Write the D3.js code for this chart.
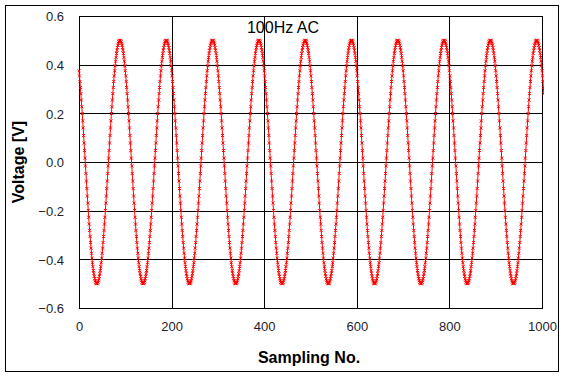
<!DOCTYPE html>
<html>
<head>
<meta charset="utf-8">
<script src="https://cdn.jsdelivr.net/npm/d3@7"></script>
<style>
html,body{margin:0;padding:0;background:#fff;}
svg{display:block;}
text{font-family:"Liberation Sans",Arial,sans-serif;}
</style>
</head>
<body>
<svg id="chart" width="567" height="379"></svg>
<script>
// Voltage [V] per sampling number (0,1,2,...)
const voltage = [
.375,.354,.331,.306,.281,.255,.227,.199,.169,.140,.109,.078,.047,.016,-.016,-.047,-.078,-.109,-.140,-.169,-.199,-.227,-.255,-.281,-.306,-.331,-.354,-.375,-.395,-.414,-.430,-.446,-.459,-.470,-.480,-.488,-.494,-.498,-.500,-.500,-.498,-.494,-.488,-.480,-.470,-.459,-.446,-.430,-.414,-.395,-.375,-.354,-.331,-.306,-.281,-.255,-.227,-.199,-.169,-.140,-.109,-.078,-.047,-.016,.016,.047,.078,.109,.140,.169,.199,.227,.255,.281,.306,.331,.354,.375,.395,.414,.430,.446,.459,.470,.480,.488,.494,.498,.500,.500,.498,.494,.488,.480,.470,.459,.446,.430,.414,.395,
.375,.354,.331,.306,.281,.255,.227,.199,.169,.140,.109,.078,.047,.016,-.016,-.047,-.078,-.109,-.140,-.169,-.199,-.227,-.255,-.281,-.306,-.331,-.354,-.375,-.395,-.414,-.430,-.446,-.459,-.470,-.480,-.488,-.494,-.498,-.500,-.500,-.498,-.494,-.488,-.480,-.470,-.459,-.446,-.430,-.414,-.395,-.375,-.354,-.331,-.306,-.281,-.255,-.227,-.199,-.169,-.140,-.109,-.078,-.047,-.016,.016,.047,.078,.109,.140,.169,.199,.227,.255,.281,.306,.331,.354,.375,.395,.414,.430,.446,.459,.470,.480,.488,.494,.498,.500,.500,.498,.494,.488,.480,.470,.459,.446,.430,.414,.395,
.375,.354,.331,.306,.281,.255,.227,.199,.169,.140,.109,.078,.047,.016,-.016,-.047,-.078,-.109,-.140,-.169,-.199,-.227,-.255,-.281,-.306,-.331,-.354,-.375,-.395,-.414,-.430,-.446,-.459,-.470,-.480,-.488,-.494,-.498,-.500,-.500,-.498,-.494,-.488,-.480,-.470,-.459,-.446,-.430,-.414,-.395,-.375,-.354,-.331,-.306,-.281,-.255,-.227,-.199,-.169,-.140,-.109,-.078,-.047,-.016,.016,.047,.078,.109,.140,.169,.199,.227,.255,.281,.306,.331,.354,.375,.395,.414,.430,.446,.459,.470,.480,.488,.494,.498,.500,.500,.498,.494,.488,.480,.470,.459,.446,.430,.414,.395,
.375,.354,.331,.306,.281,.255,.227,.199,.169,.140,.109,.078,.047,.016,-.016,-.047,-.078,-.109,-.140,-.169,-.199,-.227,-.255,-.281,-.306,-.331,-.354,-.375,-.395,-.414,-.430,-.446,-.459,-.470,-.480,-.488,-.494,-.498,-.500,-.500,-.498,-.494,-.488,-.480,-.470,-.459,-.446,-.430,-.414,-.395,-.375,-.354,-.331,-.306,-.281,-.255,-.227,-.199,-.169,-.140,-.109,-.078,-.047,-.016,.016,.047,.078,.109,.140,.169,.199,.227,.255,.281,.306,.331,.354,.375,.395,.414,.430,.446,.459,.470,.480,.488,.494,.498,.500,.500,.498,.494,.488,.480,.470,.459,.446,.430,.414,.395,
.375,.354,.331,.306,.281,.255,.227,.199,.169,.140,.109,.078,.047,.016,-.016,-.047,-.078,-.109,-.140,-.169,-.199,-.227,-.255,-.281,-.306,-.331,-.354,-.375,-.395,-.414,-.430,-.446,-.459,-.470,-.480,-.488,-.494,-.498,-.500,-.500,-.498,-.494,-.488,-.480,-.470,-.459,-.446,-.430,-.414,-.395,-.375,-.354,-.331,-.306,-.281,-.255,-.227,-.199,-.169,-.140,-.109,-.078,-.047,-.016,.016,.047,.078,.109,.140,.169,.199,.227,.255,.281,.306,.331,.354,.375,.395,.414,.430,.446,.459,.470,.480,.488,.494,.498,.500,.500,.498,.494,.488,.480,.470,.459,.446,.430,.414,.395,
.375,.354,.331,.306,.281,.255,.227,.199,.169,.140,.109,.078,.047,.016,-.016,-.047,-.078,-.109,-.140,-.169,-.199,-.227,-.255,-.281,-.306,-.331,-.354,-.375,-.395,-.414,-.430,-.446,-.459,-.470,-.480,-.488,-.494,-.498,-.500,-.500,-.498,-.494,-.488,-.480,-.470,-.459,-.446,-.430,-.414,-.395,-.375,-.354,-.331,-.306,-.281,-.255,-.227,-.199,-.169,-.140,-.109,-.078,-.047,-.016,.016,.047,.078,.109,.140,.169,.199,.227,.255,.281,.306,.331,.354,.375,.395,.414,.430,.446,.459,.470,.480,.488,.494,.498,.500,.500,.498,.494,.488,.480,.470,.459,.446,.430,.414,.395,
.375,.354,.331,.306,.281,.255,.227,.199,.169,.140,.109,.078,.047,.016,-.016,-.047,-.078,-.109,-.140,-.169,-.199,-.227,-.255,-.281,-.306,-.331,-.354,-.375,-.395,-.414,-.430,-.446,-.459,-.470,-.480,-.488,-.494,-.498,-.500,-.500,-.498,-.494,-.488,-.480,-.470,-.459,-.446,-.430,-.414,-.395,-.375,-.354,-.331,-.306,-.281,-.255,-.227,-.199,-.169,-.140,-.109,-.078,-.047,-.016,.016,.047,.078,.109,.140,.169,.199,.227,.255,.281,.306,.331,.354,.375,.395,.414,.430,.446,.459,.470,.480,.488,.494,.498,.500,.500,.498,.494,.488,.480,.470,.459,.446,.430,.414,.395,
.375,.354,.331,.306,.281,.255,.227,.199,.169,.140,.109,.078,.047,.016,-.016,-.047,-.078,-.109,-.140,-.169,-.199,-.227,-.255,-.281,-.306,-.331,-.354,-.375,-.395,-.414,-.430,-.446,-.459,-.470,-.480,-.488,-.494,-.498,-.500,-.500,-.498,-.494,-.488,-.480,-.470,-.459,-.446,-.430,-.414,-.395,-.375,-.354,-.331,-.306,-.281,-.255,-.227,-.199,-.169,-.140,-.109,-.078,-.047,-.016,.016,.047,.078,.109,.140,.169,.199,.227,.255,.281,.306,.331,.354,.375,.395,.414,.430,.446,.459,.470,.480,.488,.494,.498,.500,.500,.498,.494,.488,.480,.470,.459,.446,.430,.414,.395,
.375,.354,.331,.306,.281,.255,.227,.199,.169,.140,.109,.078,.047,.016,-.016,-.047,-.078,-.109,-.140,-.169,-.199,-.227,-.255,-.281,-.306,-.331,-.354,-.375,-.395,-.414,-.430,-.446,-.459,-.470,-.480,-.488,-.494,-.498,-.500,-.500,-.498,-.494,-.488,-.480,-.470,-.459,-.446,-.430,-.414,-.395,-.375,-.354,-.331,-.306,-.281,-.255,-.227,-.199,-.169,-.140,-.109,-.078,-.047,-.016,.016,.047,.078,.109,.140,.169,.199,.227,.255,.281,.306,.331,.354,.375,.395,.414,.430,.446,.459,.470,.480,.488,.494,.498,.500,.500,.498,.494,.488,.480,.470,.459,.446,.430,.414,.395,
.375,.354,.331,.306,.281,.255,.227,.199,.169,.140,.109,.078,.047,.016,-.016,-.047,-.078,-.109,-.140,-.169,-.199,-.227,-.255,-.281,-.306,-.331,-.354,-.375,-.395,-.414,-.430,-.446,-.459,-.470,-.480,-.488,-.494,-.498,-.500,-.500,-.498,-.494,-.488,-.480,-.470,-.459,-.446,-.430,-.414,-.395,-.375,-.354,-.331,-.306,-.281,-.255,-.227,-.199,-.169,-.140,-.109,-.078,-.047,-.016,.016,.047,.078,.109,.140,.169,.199,.227,.255,.281,.306,.331,.354,.375,.395,.414,.430,.446,.459,.470,.480,.488,.494,.498,.500,.500,.498,.494,.488,.480,.470,.459,.446,.430,.414,.395,
.375,.354,.331,.306,.281
];
const xTicks = [0, 200, 400, 600, 800, 1000];
const yTicks = [-0.6, -0.4, -0.2, 0.0, 0.2, 0.4, 0.6];
const xDomain = [0, 1000];
const yDomain = [-0.6, 0.6];
const chartTitle = "100Hz AC";
const xTitle = "Sampling No.";
const yTitle = "Voltage [V]";

const svg = d3.select("#chart");
const L = 79, R = 542, T = 16, B = 308;
const x = d3.scaleLinear().domain(xDomain).range([L, R]);
const y = d3.scaleLinear().domain(yDomain).range([B, T]);
const px = v => Math.round(v) + 0.5;

// outer frame
svg.append("rect").attr("x", 5.5).attr("y", 5.5).attr("width", 553).attr("height", 366)
  .attr("fill", "#fff").attr("stroke", "#000").attr("stroke-width", 1);

// grid
const grid = svg.append("g").attr("stroke", "#000").attr("stroke-width", 1).attr("shape-rendering", "crispEdges");
grid.selectAll("line.h").data(yTicks).join("line").attr("class", "h")
  .attr("x1", L).attr("x2", R).attr("y1", d => px(y(d))).attr("y2", d => px(y(d)));
grid.selectAll("line.v").data(xTicks).join("line").attr("class", "v")
  .attr("y1", T).attr("y2", B).attr("x1", d => px(x(d))).attr("x2", d => px(x(d)));
svg.append("rect").attr("x", px(L)).attr("y", px(T)).attr("width", Math.round(R) - Math.round(L)).attr("height", Math.round(B) - Math.round(T))
  .attr("fill", "none").attr("stroke", "#000").attr("stroke-width", 1).attr("shape-rendering", "crispEdges");

// tick labels via axes
const yAxis = d3.axisLeft(y).tickValues(yTicks).tickFormat(d3.format(".1f")).tickSize(0).tickPadding(0);
const gy = svg.append("g").attr("transform", "translate(64,0)").call(yAxis);
gy.select(".domain").remove();
gy.selectAll("text").attr("font-size", 13).attr("fill", "#1e1e2e").attr("font-family", "'Liberation Sans',Arial,sans-serif").attr("dy", "0.36em");

const xAxis = d3.axisBottom(x).tickValues(xTicks).tickFormat(d3.format("d")).tickSize(0).tickPadding(0);
const gx = svg.append("g").attr("transform", "translate(0,322)").call(xAxis);
gx.select(".domain").remove();
gx.selectAll("text").attr("font-size", 13).attr("fill", "#1e1e2e").attr("font-family", "'Liberation Sans',Arial,sans-serif").attr("dy", "0.72em");

// series
const clip = svg.append("clipPath").attr("id", "clip").append("rect")
  .attr("x", L - 2).attr("y", T - 8).attr("width", R - L + 4).attr("height", B - T + 16);
const pts = voltage.map((v, i) => [i, v]);
const series = svg.append("g").attr("clip-path", "url(#clip)");
series.append("path").datum(pts)
  .attr("d", d3.line().x(d => x(d[0])).y(d => y(d[1])))
  .attr("fill", "none").attr("stroke", "#ff0000").attr("stroke-width", 1);
const s = 1.5;
series.append("path")
  .attr("d", pts.map(d => {
    const cx = x(d[0]), cy = y(d[1]);
    return `M${cx - s},${cy - s}L${cx + s},${cy + s}M${cx - s},${cy + s}L${cx + s},${cy - s}`;
  }).join(""))
  .attr("fill", "none").attr("stroke", "#ff0000").attr("stroke-width", 1);

// titles
svg.append("text").attr("x", 283).attr("y", 33).attr("text-anchor", "middle")
  .attr("font-size", 16).attr("fill", "#000").text(chartTitle);
svg.append("text").attr("x", 309).attr("y", 363).attr("text-anchor", "middle")
  .attr("font-size", 16).attr("font-weight", "bold").attr("fill", "#000").text(xTitle);
svg.append("text").attr("transform", `translate(24,${(T + B) / 2}) rotate(-90)`).attr("text-anchor", "middle")
  .attr("font-size", 16).attr("font-weight", "bold").attr("fill", "#000").text(yTitle);
</script>
</body>
</html>
